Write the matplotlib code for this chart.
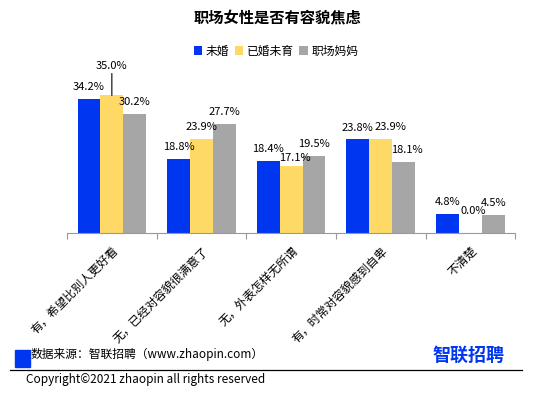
import numpy as np
import matplotlib
matplotlib.use('agg')
import matplotlib.pyplot as plt
from matplotlib.patches import Rectangle

plt.rcParams['font.family'] = ['Noto Sans CJK SC', 'DejaVu Sans']

title = '职场女性是否有容貌焦虑'
categories = ['有，希望比别人更好看', '无，已经对容貌很满意了', '无，外表怎样无所谓',
              '有，时常对容貌感到自卑', '不清楚']
series_names = ['未婚', '已婚未育', '职场妈妈']
unmarried = [34.2, 18.8, 18.4, 23.8, 4.8]
married_no_kids = [35.0, 23.9, 17.1, 23.9, 0.0]
working_moms = [30.2, 27.7, 19.5, 18.1, 4.5]
colors = ['#0036F0', '#FFD966', '#A6A6A6']
source_text = '数据来源：智联招聘（www.zhaopin.com）'
copyright_text = 'Copyright©2021 zhaopin all rights reserved'

# label nudges (series index, category index) -> (dx, dy) in points
nudges = {(1, 2): (3, -3), (1, 3): (7, 0), (1, 4): (2, 7), (2, 3): (2, 0)}

fig = plt.figure(figsize=(5.54, 3.99), dpi=100)
ax = fig.add_axes([0.121, 0.416, 0.809, 0.394])

x = np.arange(len(categories))
w = 0.255
all_series = [unmarried, married_no_kids, working_moms]
for i, (vals, c, name) in enumerate(zip(all_series, colors, series_names)):
    pos = x + (i - 1) * w
    ax.bar(pos, vals, width=w, color=c, label=name, zorder=2)
    for j, (px, v) in enumerate(zip(pos, vals)):
        if i == 1 and j == 0:
            # label lifted up with a leader line
            ax.annotate(f'{v:.1f}%', xy=(px, v), xytext=(px, v + 6.3),
                        ha='center', va='bottom', fontsize=8,
                        arrowprops=dict(arrowstyle='-', color='black', lw=0.8,
                                        shrinkA=0, shrinkB=0))
        else:
            dx, dy = nudges.get((i, j), (0, 0))
            ax.annotate(f'{v:.1f}%', xy=(px, v), xytext=(dx, 5 + dy),
                        textcoords='offset points', ha='center', va='bottom', fontsize=8)

ax.set_xlim(-0.5, len(categories) - 0.5)
ax.set_ylim(0, 40)
ax.set_yticks([])
for s in ['top', 'right', 'left']:
    ax.spines[s].set_visible(False)
ax.spines['bottom'].set_color('#999999')
ax.set_xticks(np.arange(len(categories) + 1) - 0.5)
ax.set_xticklabels([])
ax.tick_params(axis='x', length=4, color='#999999', direction='out')
ax.set_xticks(x, minor=True)
ax.set_xticklabels(categories, minor=True, rotation=45, ha='right',
                   rotation_mode='anchor', fontsize=8.5)
ax.tick_params(axis='x', which='minor', length=0, pad=8)

fig.text(0.5, 0.957, title, ha='center', va='center', fontsize=11, fontweight='bold')
fig.legend(loc='center', bbox_to_anchor=(0.498, 0.872), ncol=3, frameon=False,
           fontsize=8.5, handlelength=0.7, handleheight=0.7, handletextpad=0.3,
           columnspacing=0.5)

# footer
fig.patches.append(Rectangle((15 / 554, 1 - 367 / 399), 15 / 554, 17 / 399,
                             transform=fig.transFigure, color='#0036F0'))
fig.text(31 / 554, 1 - 354 / 399, source_text, ha='left', va='center', fontsize=8.5)
fig.add_artist(plt.Line2D([10 / 554, 522 / 554], [1 - 370 / 399, 1 - 370 / 399],
                          transform=fig.transFigure, color='black', lw=0.9))
fig.text(26 / 554, 1 - 379 / 399, copyright_text, ha='left', va='center', fontsize=8.5)
fig.text(468 / 554, 1 - 355 / 399, '智联招聘', ha='center', va='center', fontsize=13,
         fontweight='bold', color='#0036F0')

fig.savefig('out.png', dpi=100)
